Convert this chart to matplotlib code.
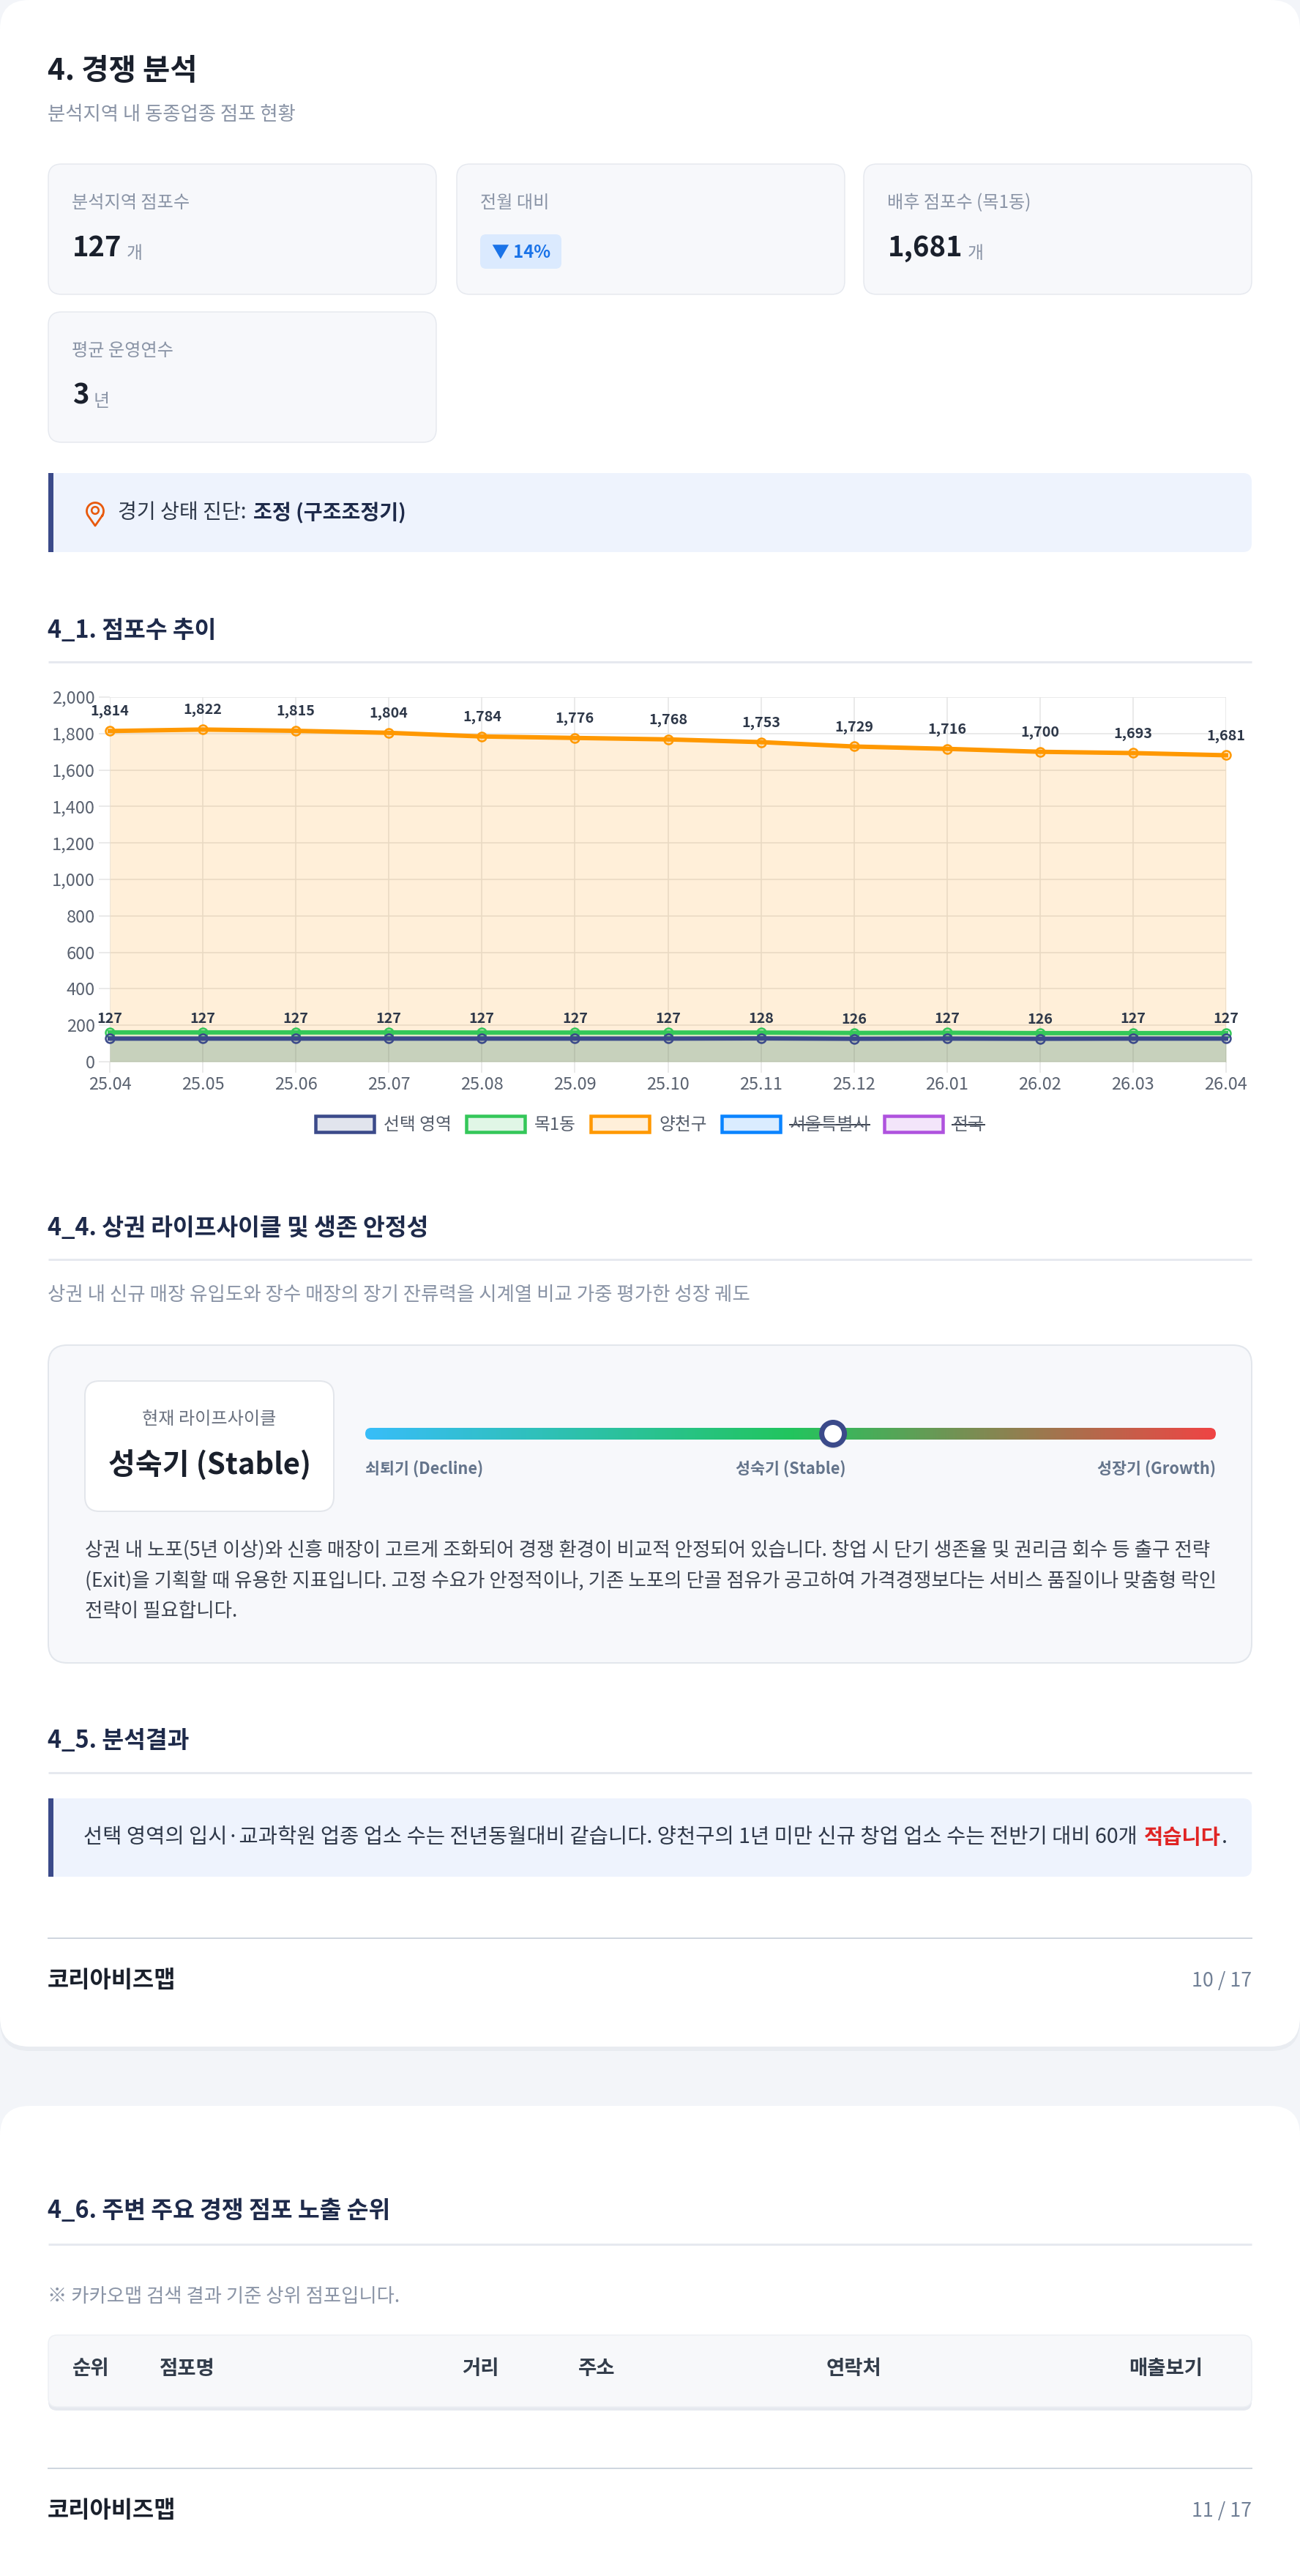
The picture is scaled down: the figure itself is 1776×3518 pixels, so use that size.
import numpy as np
import matplotlib
matplotlib.use("Agg")
import matplotlib.pyplot as plt
from matplotlib.patches import FancyBboxPatch, Circle, Patch, Rectangle
from matplotlib.colors import LinearSegmentedColormap, to_rgba
from matplotlib.ticker import FuncFormatter

plt.rcParams['font.family'] = ['Noto Sans CJK KR', 'DejaVu Sans']

W, H = 1776, 3518
DPI = 100

# ---- data ----
months = ['25.04', '25.05', '25.06', '25.07', '25.08', '25.09', '25.10',
          '25.11', '25.12', '26.01', '26.02', '26.03', '26.04']
yangcheon = [1814, 1822, 1815, 1804, 1784, 1776, 1768, 1753, 1729, 1716, 1700, 1693, 1681]
selected = [127, 127, 127, 127, 127, 127, 127, 128, 126, 127, 126, 127, 127]
mok1 = [161, 161, 161, 161, 160, 160, 160, 160, 158, 159, 157, 157, 157]
legend_names = ['선택 영역', '목1동', '양천구', '서울특별시', '전국']
hidden_names = ['서울특별시', '전국']

kpi_labels = ['분석지역 점포수', '전월 대비', '배후 점포수 (목1동)', '평균 운영연수']
kpi_values = ['127', '▼ 14%', '1,681', '3']
kpi_units = ['개', '', '개', '년']

stage_labels = ['쇠퇴기 (Decline)', '성숙기 (Stable)', '성장기 (Growth)']
stage_pos = 0.55
desc_lines = [
    '상권 내 노포(5년 이상)와 신흥 매장이 고르게 조화되어 경쟁 환경이 비교적 안정되어 있습니다. 창업 시 단기 생존율 및 권리금 회수 등 출구 전략',
    '(Exit)을 기획할 때 유용한 지표입니다. 고정 수요가 안정적이나, 기존 노포의 단골 점유가 공고하여 가격경쟁보다는 서비스 품질이나 맞춤형 락인',
    '전략이 필요합니다.',
]
result_text = ['선택 영역의 입시·교과학원 업종 업소 수는 전년동월대비 같습니다. 양천구의 1년 미만 신규 창업 업소 수는 전반기 대비 60개', '적습니다', '.']
table_cols = ['순위', '점포명', '거리', '주소', '연락처', '매출보기']
table_x = [99, 217, 631, 790, 1129, 1542]

NAVY = '#3b4a8a'
GREEN = '#34c759'
ORANGE = '#ff9800'
BLUE = '#0a84ff'
PURPLE = '#af52de'
DARK = '#1a202c'
GRAY = '#8a94a6'
PX = 0.72  # px -> pt at 100 dpi

fig = plt.figure(figsize=(W / DPI, H / DPI), dpi=DPI)
fig.patch.set_facecolor('#f3f5f9')
pg = fig.add_axes([0, 0, 1, 1])
pg.set_xlim(0, W)
pg.set_ylim(H, 0)
pg.set_autoscale_on(False)
pg.axis('off')
renderer = fig.canvas.get_renderer()


def size_for(s, width, weight='normal'):
    # font size (px) that makes string s about `width` pixels wide
    t = pg.text(0, 0, s, fontsize=20 * PX, fontweight=weight)
    w = t.get_window_extent(renderer).width
    t.remove()
    return 20 * width / w


def rbox(x0, y0, x1, y1, r, fc, ec='none', lw=0, z=1):
    p = FancyBboxPatch((x0, y0), x1 - x0, y1 - y0,
                       boxstyle='round,pad=0,rounding_size=%g' % r,
                       fc=fc, ec=ec, lw=lw * PX, zorder=z)
    pg.add_patch(p)
    return p


def txt(x, y, s, size, color=DARK, weight='normal', ha='left', va='center', z=5):
    return pg.text(x, y, s, fontsize=size * PX, color=color, fontweight=weight,
                   ha=ha, va=va, zorder=z)


def chain(prev, s, size, color=DARK, weight='normal', gap=0):
    return pg.annotate(s, xy=(1, 0), xycoords=prev, xytext=(gap, 0),
                       textcoords='offset pixels', ha='left', va='bottom',
                       fontsize=size * PX, color=color, fontweight=weight, zorder=5)


HEAD = size_for('4_4. 상권 라이프사이클 및 생존 안정성', 520, 'bold')


def heading(y, s, line_y):
    txt(65, y, s, HEAD, '#1e2a4a', 'bold')
    pg.plot([66, 1710], [line_y, line_y], color='#e6e9ef', lw=3 * PX, zorder=2,
            solid_capstyle='butt')


def note_box(y0, y1):
    rbox(66, y0, 1710, y1, 12, '#eef3fd', z=1)
    pg.add_patch(Rectangle((66, y0), 20, y1 - y0, fc='#eef3fd', ec='none', zorder=1.1))
    pg.add_patch(Rectangle((66, y0), 7, y1 - y0, fc=NAVY, ec='none', zorder=1.2))


# ---- page cards ----
rbox(0, 6, W, 2801, 40, '#e9ecf1', z=0.4)
rbox(0, 0, W, 2795, 40, 'white', z=0.5)
rbox(0, 2882, W, H + 80, 40, '#e9ecf1', z=0.4)
rbox(0, 2876, W, H + 80, 40, 'white', z=0.5)

# ---- section 4 header ----
txt(65, 97, '4. 경쟁 분석', size_for('4. 경쟁 분석', 204, 'bold'), DARK, 'bold')
txt(65, 156, '분석지역 내 동종업종 점포 현황', size_for('분석지역 내 동종업종 점포 현황', 339), GRAY)

LAB = size_for(kpi_labels[0], 161)
VAL = size_for(kpi_values[0], 67.5, 'bold')
UNIT = size_for('개', 22)
BADGE = size_for(kpi_values[1], 80, 'bold')
card_xy = [(66, 224), (624, 224), (1180, 224), (66, 426)]
for (cx, cy), lab, val, unit in zip(card_xy, kpi_labels, kpi_values, kpi_units):
    rbox(cx, cy, cx + 530, cy + 178, 18, '#f7f8fb', '#e6e9ef', 1.5, z=1)
    txt(cx + 32, cy + 53, lab, LAB, GRAY)
    if unit:
        t = txt(cx + 33, cy + 114, val, VAL, DARK, 'bold')
        chain(t, unit, UNIT, '#8a94a6', gap=6)
    else:
        rbox(cx + 32, cy + 96, cx + 143, cy + 143, 8, '#dbeafe', z=2)
        txt(cx + 88, cy + 120, val, BADGE, '#1a73e8', 'bold', ha='center')

# diagnosis box with pin icon
note_box(646, 754)
ang = np.radians(np.linspace(-32, 212, 60))
pcx, pcy, pr = 130, 698, 11.5
px_ = list(pcx + pr * np.cos(ang)) + [pcx, pcx + pr * np.cos(ang[0])]
py_ = list(pcy - pr * np.sin(ang)) + [pcy + 20, pcy - pr * np.sin(ang[0])]
pg.plot(px_, py_, color='#e8590c', lw=2.8 * PX, zorder=4, solid_joinstyle='round')
pg.add_patch(Circle((pcx, pcy - 1), 4.8, fc='none', ec='#e8590c', lw=2.6 * PX, zorder=4))
ALERT = size_for('경기 상태 진단:', 176)
t = txt(161, 700, '경기 상태 진단:', ALERT, '#2d3748')
chain(t, '조정 (구조조정기)', ALERT, '#1e2a4a', 'bold', gap=9)

# ---- 4_1 chart ----
heading(861, '4_1. 점포수 추이', 904)

ax = fig.add_axes([150 / W, 1 - 1450 / H, 1525 / W, 498 / H])
ax.set_facecolor('none')
x = np.arange(len(months))
series = [(yangcheon, ORANGE, 2), (mok1, GREEN, 3), (selected, NAVY, 4)]
for vals, c, z in series:
    ax.fill_between(x, 0, vals, color=to_rgba(c, 0.15), lw=0, zorder=1 + z * 0.1)
for vals, c, z in series:
    ax.plot(x, vals, color=c, lw=6 * PX, zorder=z, marker='o', ms=12 * PX,
            mfc=to_rgba(c, 0.15), mec=c, mew=2.5 * PX, clip_on=False)

DLAB = size_for('1,814', 53, 'bold')
for vals in (yangcheon, selected):
    for xi, v in zip(x, vals):
        ax.annotate(f'{v:,}', (xi, v), xytext=(0, 21), textcoords='offset pixels',
                    ha='center', va='baseline', fontsize=DLAB * PX, fontweight='bold',
                    color='#2d3748', zorder=6, annotation_clip=False)

TICK = size_for('25.04', 59)
ax.set_xlim(0, len(months) - 1)
ax.set_ylim(0, 2000)
ax.set_xticks(x)
ax.set_xticklabels(months)
ax.set_yticks(np.arange(0, 2001, 200))
ax.yaxis.set_major_formatter(FuncFormatter(lambda v, p: f'{v:,.0f}'))
ax.grid(True, color='#e6e6e6', lw=1.6 * PX, zorder=0)
ax.set_axisbelow(True)
for s in ax.spines.values():
    s.set_visible(False)
ax.tick_params(length=15 * PX, width=1.6 * PX, color='#e6e6e6',
               labelsize=TICK * PX, labelcolor='#5a6270', pad=5 * PX)

LEG = size_for('서울특별시', 109)
legend_colors = [NAVY, GREEN, ORANGE, BLUE, PURPLE]
handles = [Patch(facecolor=to_rgba(c, 0.15), edgecolor=c, linewidth=4.5 * PX)
           for c in legend_colors]
leg = ax.legend(handles, legend_names, loc='upper center',
                bbox_to_anchor=((888 - 150) / 1525, -0.148),
                ncol=5, frameon=False, fontsize=LEG * PX, handlelength=80 / LEG,
                handleheight=25 / LEG, handletextpad=13 / LEG, columnspacing=20 / LEG,
                borderaxespad=0, borderpad=0)
for t in leg.get_texts():
    t.set_color('#555d6b')

# ---- 4_4 lifecycle ----
heading(1677, '4_4. 상권 라이프사이클 및 생존 안정성', 1720)
sub = '상권 내 신규 매장 유입도와 장수 매장의 장기 잔류력을 시계열 비교 가중 평가한 성장 궤도'
txt(65, 1768, sub, size_for(sub, 960), GRAY)

rbox(66, 1837, 1710, 2271, 26, '#f7f8fb', '#e2e6ec', 2, z=1)
rbox(116, 1886, 456, 2064, 20, 'white', '#e3e6eb', 2, z=2)
txt(286, 1938, '현재 라이프사이클', size_for('현재 라이프사이클', 183), '#6b7280', ha='center')
txt(286, 2001, stage_labels[1], size_for(stage_labels[1], 277, 'bold'), DARK, 'bold', ha='center')

bx0, bx1, by0, by1 = 499, 1661, 1950, 1966
cmap = LinearSegmentedColormap.from_list('life', [(0, '#38bdf8'), (0.5, '#22c55e'), (1, '#ef4444')])
im = pg.imshow(np.linspace(0, 1, 600)[None, :], cmap=cmap, extent=[bx0, bx1, by1, by0],
               aspect='auto', zorder=3, interpolation='bilinear')
clip = FancyBboxPatch((bx0, by0), bx1 - bx0, by1 - by0, boxstyle='round,pad=0,rounding_size=8',
                      fc='none', ec='none', transform=pg.transData)
pg.add_patch(clip)
im.set_clip_path(clip)
mx = bx0 + stage_pos * (bx1 - bx0)
pg.add_patch(Circle((mx, 1962), 17, fc='#000000', alpha=0.06, ec='none', zorder=3.5))
pg.add_patch(Circle((mx, 1958), 15.5, fc='white', ec=NAVY, lw=7 * PX, zorder=4))
STAGE = size_for(stage_labels[2], 162, 'bold')
for s, xx, ha in zip(stage_labels, [bx0, (bx0 + bx1) / 2, bx1], ['left', 'center', 'right']):
    txt(xx, 2007, s, STAGE, '#64748b', 'bold', ha=ha)
DESC = size_for(desc_lines[0], 1538)
for i, line in enumerate(desc_lines):
    txt(116, 2117 + i * 41.5, line, DESC, '#3d4451')

# ---- 4_5 result ----
heading(2377, '4_5. 분석결과', 2421)
note_box(2456, 2563)
RES = size_for(result_text[0], 1436)
t = txt(114, 2509, result_text[0], RES, '#2d3748')
t = chain(t, result_text[1], RES, '#e02424', 'bold', gap=9)
chain(t, result_text[2], RES, '#2d3748', gap=1)

# footer 1
FOOT = size_for('코리아비즈맵', 175, 'bold')
PAGE = size_for('10 / 17', 82)
pg.plot([66, 1710], [2647, 2647], color='#cfd6df', lw=2 * PX, zorder=2)
txt(65, 2705, '코리아비즈맵', FOOT, DARK, 'bold')
txt(1710, 2706, '10 / 17', PAGE, '#718096', ha='right')

# ---- 4_6 table ----
heading(3020, '4_6. 주변 주요 경쟁 점포 노출 순위', 3065)
note = '※ 카카오맵 검색 결과 기준 상위 점포입니다.'
txt(65, 3136, note, size_for(note, 481), GRAY)
rbox(66, 3191, 1710, 3292, 12, '#e6e9ef', z=1)
rbox(66, 3189, 1710, 3287, 12, '#f7f8fa', '#edf0f4', 1.5, z=1.1)
THEAD = size_for('매출보기', 101, 'bold')
for s, xx in zip(table_cols, table_x):
    txt(xx, 3235, s, THEAD, '#333d4b', 'bold')

# footer 2
pg.plot([66, 1710], [3371, 3371], color='#cfd6df', lw=2 * PX, zorder=2)
txt(65, 3429, '코리아비즈맵', FOOT, DARK, 'bold')
txt(1710, 3430, '11 / 17', PAGE, '#718096', ha='right')

pg.set_xlim(0, W)
pg.set_ylim(H, 0)

# strike-through for hidden legend entries
fig.canvas.draw()
inv = pg.transData.inverted()
for t in leg.get_texts():
    if t.get_text() in hidden_names:
        bb = t.get_window_extent()
        (x0, y0), (x1, y1) = inv.transform([(bb.x0, bb.y0), (bb.x1, bb.y1)])
        ym = y0 + (y1 - y0) * 0.52
        pg.plot([x0, x1], [ym, ym], color='#3d4451', lw=2 * PX, zorder=6)

fig.savefig('out.png', dpi=DPI, facecolor=fig.get_facecolor())
